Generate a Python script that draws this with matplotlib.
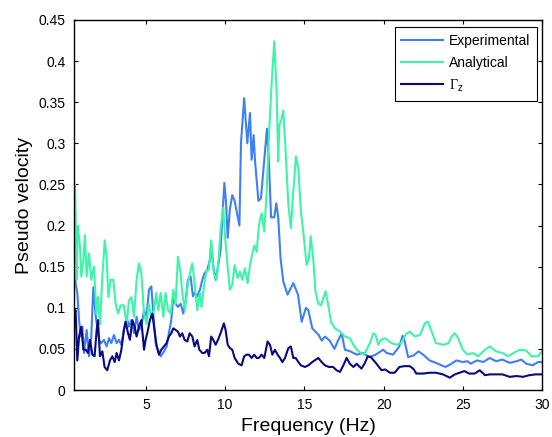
import matplotlib
matplotlib.use('Agg')
import matplotlib.pyplot as plt

plt.rcParams['font.family'] = ['Liberation Sans', 'DejaVu Sans']
plt.rcParams['mathtext.fontset'] = 'custom'
plt.rcParams['mathtext.rm'] = 'Liberation Serif'
plt.rcParams['mathtext.sf'] = 'Liberation Sans'

# Experimental
f_exp = [0.46, 0.56, 0.67, 0.78, 0.88, 0.99, 1.09, 1.26, 1.41, 1.55, 1.68, 1.83, 2.04, 2.18, 2.35, 2.52,
         2.67, 2.82, 2.98, 3.15, 3.30, 3.45, 3.61, 3.78, 3.93, 4.08, 4.25, 4.41, 4.56, 4.71, 4.88, 5.04,
         5.19, 5.34, 5.47, 5.61, 5.76, 5.93, 6.14, 6.31, 6.45, 6.60, 6.73, 6.87, 7.02, 7.19, 7.36, 7.51,
         7.65, 7.82, 7.97, 8.07, 8.24, 8.41, 8.56, 8.70, 8.87, 9.04, 9.12, 9.25, 9.40, 9.55, 9.71, 9.80,
         9.95, 10.05, 10.16, 10.30, 10.45, 10.6, 10.9, 11.0, 11.2, 11.4, 11.57, 11.67, 11.8, 11.88, 12.1,
         12.26, 12.47, 12.64, 12.77, 12.9, 13.1, 13.23, 13.35, 13.5, 13.67, 13.94, 14.3, 14.6, 14.83,
         15.1, 15.25, 15.5, 15.9, 16.1, 16.3, 16.6, 16.9, 17.1, 17.35, 17.56, 17.9, 18.3, 18.7, 19.1,
         19.5, 19.97, 20.2, 20.6, 20.99, 21.2, 21.3, 21.55, 21.9, 22.2, 22.5, 22.9, 23.3, 23.9, 24.3,
         24.6, 25.0, 25.3, 25.5, 25.9, 26.3, 26.7, 27.1, 27.5, 27.96, 28.4, 28.7, 29.0, 29.4, 29.75, 30.0]
v_exp = [0.231, 0.13, 0.118, 0.085, 0.065, 0.077, 0.045, 0.073, 0.041, 0.065, 0.125, 0.09, 0.061, 0.057,
         0.061, 0.053, 0.063, 0.057, 0.067, 0.057, 0.061, 0.055, 0.073, 0.089, 0.077, 0.085, 0.069, 0.089,
         0.073, 0.077, 0.097, 0.089, 0.122, 0.126, 0.093, 0.057, 0.049, 0.041, 0.047, 0.053, 0.069, 0.085,
         0.114, 0.105, 0.101, 0.105, 0.093, 0.109, 0.134, 0.138, 0.114, 0.118, 0.114, 0.122, 0.134, 0.142,
         0.146, 0.158, 0.178, 0.15, 0.134, 0.15, 0.17, 0.2, 0.252, 0.23, 0.185, 0.22, 0.237, 0.23, 0.2,
         0.30, 0.355, 0.30, 0.337, 0.28, 0.31, 0.28, 0.23, 0.233, 0.28, 0.318, 0.274, 0.21, 0.21, 0.227,
         0.21, 0.16, 0.132, 0.116, 0.13, 0.116, 0.083, 0.10, 0.097, 0.075, 0.067, 0.06, 0.065, 0.06, 0.05,
         0.059, 0.069, 0.049, 0.047, 0.043, 0.045, 0.04, 0.043, 0.049, 0.045, 0.043, 0.053, 0.066, 0.062,
         0.04, 0.042, 0.047, 0.043, 0.036, 0.033, 0.028, 0.032, 0.036, 0.034, 0.035, 0.032, 0.036, 0.034,
         0.039, 0.035, 0.037, 0.033, 0.035, 0.037, 0.032, 0.03, 0.034, 0.034]

# Analytical
f_ana = [0.46, 0.53, 0.62, 0.70, 0.84, 0.92, 1.05, 1.15, 1.26, 1.41, 1.55, 1.72, 1.87, 1.97, 2.10, 2.25,
         2.40, 2.52, 2.63, 2.77, 2.94, 3.09, 3.24, 3.40, 3.61, 3.78, 3.93, 4.08, 4.25, 4.41, 4.56, 4.71,
         4.88, 5.04, 5.19, 5.34, 5.51, 5.65, 5.78, 5.93, 6.10, 6.24, 6.39, 6.56, 6.73, 6.87, 7.02, 7.19,
         7.29, 7.46, 7.65, 7.82, 7.93, 8.07, 8.24, 8.41, 8.51, 8.66, 8.83, 8.98, 9.12, 9.29, 9.46, 9.60,
         9.71, 9.88, 10.0, 10.15, 10.3, 10.45, 10.6, 10.79, 10.94, 11.08, 11.25, 11.42, 11.57, 11.7, 11.84,
         11.99, 12.13, 12.3, 12.47, 12.62, 12.77, 12.93, 13.1, 13.25, 13.35, 13.42, 13.56, 13.67, 13.82,
         13.99, 14.15, 14.3, 14.47, 14.62, 14.78, 14.93, 15.14, 15.29, 15.4, 15.56, 15.7, 15.88, 16.05,
         16.2, 16.34, 16.51, 16.68, 16.93, 17.25, 17.56, 17.87, 18.1, 18.3, 18.57, 18.78, 18.93, 19.14,
         19.35, 19.5, 19.66, 19.83, 20.1, 20.5, 20.8, 21.1, 21.45, 21.65, 21.97, 22.3, 22.6, 22.8, 23.0,
         23.3, 23.8, 24.1, 24.3, 24.5, 24.7, 25.0, 25.3, 25.65, 25.97, 26.4, 26.7, 27.1, 27.5, 27.86,
         28.2, 28.6, 29.0, 29.33, 29.75, 30.0]
v_ana = [0.11, 0.25, 0.134, 0.2, 0.174, 0.138, 0.158, 0.188, 0.138, 0.166, 0.134, 0.15, 0.093, 0.113,
         0.08, 0.138, 0.182, 0.162, 0.113, 0.134, 0.134, 0.105, 0.093, 0.103, 0.103, 0.08, 0.109, 0.113,
         0.089, 0.134, 0.154, 0.142, 0.093, 0.08, 0.105, 0.089, 0.097, 0.118, 0.097, 0.118, 0.089, 0.118,
         0.097, 0.093, 0.122, 0.105, 0.162, 0.142, 0.118, 0.097, 0.13, 0.146, 0.154, 0.13, 0.097, 0.118,
         0.101, 0.126, 0.146, 0.146, 0.182, 0.142, 0.134, 0.162, 0.195, 0.222, 0.185, 0.152, 0.122, 0.128,
         0.152, 0.136, 0.144, 0.134, 0.148, 0.13, 0.152, 0.164, 0.176, 0.168, 0.2, 0.215, 0.193, 0.241,
         0.31, 0.371, 0.424, 0.363, 0.278, 0.322, 0.33, 0.34, 0.29, 0.225, 0.197, 0.241, 0.284, 0.27,
         0.217, 0.193, 0.152, 0.16, 0.187, 0.16, 0.12, 0.105, 0.103, 0.112, 0.12, 0.103, 0.083, 0.075,
         0.071, 0.065, 0.063, 0.055, 0.049, 0.045, 0.043, 0.049, 0.057, 0.069, 0.067, 0.055, 0.061, 0.063,
         0.057, 0.055, 0.057, 0.069, 0.071, 0.065, 0.067, 0.081, 0.083, 0.073, 0.057, 0.055, 0.057, 0.065,
         0.069, 0.063, 0.049, 0.043, 0.045, 0.041, 0.049, 0.053, 0.047, 0.045, 0.041, 0.045, 0.049, 0.048,
         0.041, 0.041, 0.047]

# Gamma_z
f_gam = [0.46, 0.56, 0.67, 0.78, 0.92, 1.05, 1.2, 1.34, 1.47, 1.62, 1.76, 1.89, 1.97, 2.1, 2.25, 2.39,
         2.56, 2.73, 2.88, 3.03, 3.15, 3.3, 3.45, 3.61, 3.72, 3.87, 3.99, 4.14, 4.29, 4.41, 4.56, 4.71,
         4.88, 4.98, 5.13, 5.25, 5.4, 5.51, 5.68, 5.82, 5.97, 6.14, 6.3, 6.45, 6.6, 6.73, 6.87, 7.02, 7.15,
         7.29, 7.44, 7.61, 7.76, 7.93, 8.07, 8.24, 8.37, 8.56, 8.7, 8.87, 8.98, 9.12, 9.25, 9.4, 9.55,
         9.71, 9.92, 10.03, 10.16, 10.3, 10.45, 10.6, 10.83, 11.04, 11.2, 11.36, 11.5, 11.67, 11.84, 11.99,
         12.13, 12.3, 12.47, 12.68, 12.83, 12.98, 13.14, 13.31, 13.46, 13.61, 13.78, 13.99, 14.15, 14.3,
         14.45, 14.62, 14.78, 15.04, 15.25, 15.5, 15.88, 16.09, 16.3, 16.55, 16.82, 17.03, 17.25, 17.46,
         17.67, 17.87, 18.1, 18.3, 18.6, 18.8, 19.0, 19.2, 19.55, 19.87, 20.1, 20.4, 20.7, 21.0, 21.3,
         21.65, 21.87, 22.07, 22.5, 22.9, 23.3, 23.75, 24.18, 24.5, 24.8, 25.1, 25.4, 25.75, 26.07, 26.4,
         26.7, 27.1, 27.5, 27.96, 28.4, 28.8, 29.2, 29.6, 30.0]
v_gam = [0.093, 0.097, 0.036, 0.065, 0.077, 0.049, 0.049, 0.045, 0.061, 0.043, 0.041, 0.073, 0.085,
         0.041, 0.047, 0.028, 0.024, 0.036, 0.041, 0.034, 0.045, 0.036, 0.049, 0.073, 0.083, 0.069, 0.061,
         0.085, 0.077, 0.065, 0.077, 0.085, 0.049, 0.061, 0.073, 0.085, 0.093, 0.077, 0.053, 0.043, 0.049,
         0.053, 0.057, 0.065, 0.069, 0.075, 0.073, 0.071, 0.065, 0.069, 0.061, 0.059, 0.069, 0.065, 0.053,
         0.061, 0.049, 0.045, 0.045, 0.049, 0.041, 0.065, 0.061, 0.055, 0.061, 0.069, 0.081, 0.073, 0.055,
         0.051, 0.049, 0.039, 0.032, 0.03, 0.041, 0.043, 0.043, 0.039, 0.043, 0.039, 0.039, 0.043, 0.039,
         0.059, 0.055, 0.043, 0.049, 0.043, 0.039, 0.034, 0.039, 0.051, 0.053, 0.039, 0.039, 0.034, 0.03,
         0.028, 0.03, 0.034, 0.039, 0.034, 0.03, 0.028, 0.028, 0.024, 0.022, 0.03, 0.039, 0.032, 0.028,
         0.032, 0.026, 0.032, 0.041, 0.04, 0.032, 0.024, 0.025, 0.021, 0.021, 0.028, 0.029, 0.029, 0.026,
         0.02, 0.02, 0.021, 0.021, 0.019, 0.015, 0.019, 0.021, 0.023, 0.02, 0.02, 0.024, 0.018, 0.019,
         0.019, 0.019, 0.016, 0.017, 0.016, 0.018, 0.019, 0.019]

x_ticks = [5, 10, 15, 20, 25, 30]
y_ticks = [0, 0.05, 0.1, 0.15, 0.2, 0.25, 0.3, 0.35, 0.4, 0.45]
y_labels = ['0', '0.05', '0.1', '0.15', '0.2', '0.25', '0.3', '0.35', '0.4', '0.45']

fig = plt.figure(figsize=(5.52, 4.37), dpi=100)
ax = fig.add_axes([74 / 552, 47 / 437, 468 / 552, 370 / 437])

ax.plot(f_exp, v_exp, color='#3f7ff5', lw=1.5, label='Experimental')
ax.plot(f_ana, v_ana, color='#3cf5a8', lw=1.5, label='Analytical')
ax.plot(f_gam, v_gam, color='#0a0a80', lw=1.5, label=r'$\mathrm{\Gamma}_{\mathsf{z}}$')

ax.set_xlim(0.46, 30)
ax.set_ylim(0, 0.45)
ax.set_xticks(x_ticks)
ax.set_xticklabels([str(t) for t in x_ticks])
ax.set_yticks(y_ticks)
ax.set_yticklabels(y_labels)
ax.tick_params(direction='in', top=True, right=True, length=3, width=0.8, labelsize=10, pad=6)
for s in ax.spines.values():
    s.set_linewidth(1.0)

ax.set_xlabel('Frequency (Hz)', fontsize=14)
ax.set_ylabel('Pseudo velocity', fontsize=14)

leg = ax.legend(loc='upper right', bbox_to_anchor=(1 - 5 / 468, 1 - 7 / 370), borderaxespad=0,
                fancybox=False, framealpha=1, edgecolor='black', fontsize=10,
                handlelength=3.0, handletextpad=0.4, labelspacing=0.55, borderpad=0.5)
leg.get_frame().set_linewidth(0.8)

fig.savefig('out.png', dpi=100)
